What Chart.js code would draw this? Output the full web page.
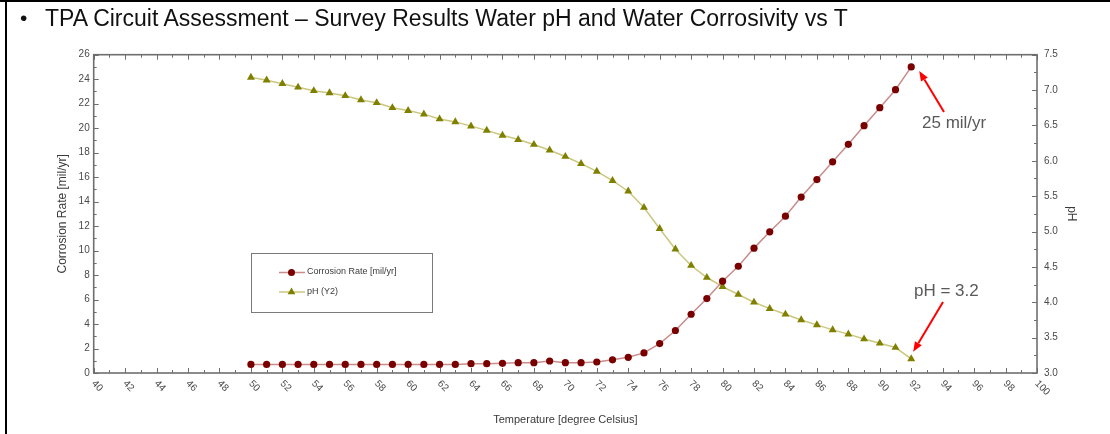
<!DOCTYPE html>
<html>
<head>
<meta charset="utf-8">
<title>TPA Circuit Assessment</title>
<script src="https://cdn.jsdelivr.net/npm/chart.js@4/dist/chart.umd.min.js"></script>
<style>
  html, body { margin: 0; padding: 0; background: #fff; }
  #slide { position: relative; width: 1110px; height: 434px; overflow: hidden; background: #fff; }
  #chart { position: absolute; left: 0; top: 0; }
  .edge { position: absolute; background: #000; }
  #heading {
    position: absolute; left: 45px; top: 4px;
    font-family: 'Liberation Sans', Arial, sans-serif; font-size: 23px; line-height: 28px;
    color: #111; white-space: nowrap;
  }
  #bullet {
    position: absolute; left: 20px; top: 5px;
    font-family: 'Liberation Sans', Arial, sans-serif; font-size: 21px; line-height: 26px; color: #111;
  }
</style>
</head>
<body>
<div id="slide">
  <canvas id="chart" width="1110" height="434"></canvas>
  <div class="edge" style="left:0;top:0;width:1110px;height:2px;"></div>
  <div class="edge" style="left:5px;top:0;width:2px;height:434px;"></div>
  <div id="bullet">•</div>
  <div id="heading">TPA Circuit Assessment – Survey Results Water pH and Water Corrosivity vs T</div>
</div>
<script>
// Survey temperatures (degree Celsius)
const temperatures = [50, 51, 52, 53, 54, 55, 56, 57, 58, 59, 60, 61, 62, 63, 64, 65, 66, 67, 68, 69, 70,
  71, 72, 73, 74, 75, 76, 77, 78, 79, 80, 81, 82, 83, 84, 85, 86, 87, 88, 89, 90, 91, 92];

// Corrosion rate, mil/yr
const corrosionRate = [0.7, 0.7, 0.7, 0.7, 0.7, 0.7, 0.7, 0.7, 0.7, 0.7, 0.7, 0.7, 0.7, 0.7, 0.76, 0.76,
  0.79, 0.84, 0.84, 0.98, 0.84, 0.84, 0.9, 1.08, 1.28, 1.64, 2.4, 3.47, 4.8, 6.08, 7.5, 8.72, 10.2,
  11.53, 12.81, 14.37, 15.8, 17.25, 18.68, 20.2, 21.67, 23.14, 25];

// Water pH
const waterPH = [7.18, 7.14, 7.09, 7.04, 6.99, 6.96, 6.92, 6.86, 6.82, 6.75, 6.71, 6.66, 6.59, 6.55,
  6.49, 6.43, 6.36, 6.30, 6.23, 6.15, 6.06, 5.96, 5.85, 5.72, 5.57, 5.34, 5.04, 4.75, 4.52, 4.35,
  4.22, 4.11, 4.00, 3.91, 3.83, 3.75, 3.68, 3.61, 3.55, 3.48, 3.42, 3.36, 3.2];

const seriesNames = ['Corrosion Rate [mil/yr]', 'pH (Y2)'];
const axisTitles = ['Temperature [degree Celsius]', 'Corrosion Rate [mil/yr]', 'pH'];
const callouts = ['25 mil/yr', 'pH = 3.2'];

const FONT = "'Liberation Sans', Arial, sans-serif";
const AXIS_GREY = '#6e6e6e';
const LABEL_GREY = '#4a4a4a';
const RATE_LINE = '#c98c8c', RATE_MARK = '#7a0000';
const PH_LINE = '#cbc77e', PH_MARK = '#7f7f00';

Chart.defaults.font.family = FONT;

function xy(xs, ys) { return xs.map((t, i) => ({ x: t, y: ys[i] })); }

function tri(ctx, x, y, r) {
  ctx.beginPath();
  ctx.moveTo(x, y - r);
  ctx.lineTo(x + r * 0.866, y + r * 0.5);
  ctx.lineTo(x - r * 0.866, y + r * 0.5);
  ctx.closePath();
  ctx.fill();
}

function arrow(ctx, x0, y0, x1, y1) {
  const ang = Math.atan2(y1 - y0, x1 - x0);
  const hl = 10, hw = 4;
  const bx = x1 - hl * Math.cos(ang), by = y1 - hl * Math.sin(ang);
  ctx.beginPath();
  ctx.moveTo(x0, y0);
  ctx.lineTo(bx, by);
  ctx.stroke();
  ctx.beginPath();
  ctx.moveTo(x1, y1);
  ctx.lineTo(bx + hw * Math.sin(ang), by - hw * Math.cos(ang));
  ctx.lineTo(bx - hw * Math.sin(ang), by + hw * Math.cos(ang));
  ctx.closePath();
  ctx.fill();
}

// Boxed frame with inward major/minor ticks on all four sides
const framePlugin = {
  id: 'frame',
  beforeDatasetsDraw(chart) {
    const { ctx, chartArea: a, scales } = chart;
    const { x, y, y1 } = scales;
    ctx.save();
    ctx.strokeStyle = AXIS_GREY;
    ctx.lineWidth = 1;
    const seg = (x0, y0, x1, y1_) => { ctx.beginPath(); ctx.moveTo(x0, y0); ctx.lineTo(x1, y1_); ctx.stroke(); };
    for (let v = x.min; v <= x.max; v += 1) {
      const px = Math.round(x.getPixelForValue(v)) + 0.5;
      const len = v % 2 === 0 ? 5 : 3;
      seg(px, a.bottom, px, a.bottom - len);
      seg(px, a.top, px, a.top + len);
    }
    for (let v = y.min; v <= y.max; v += 1) {
      const py = Math.round(y.getPixelForValue(v)) + 0.5;
      seg(a.left, py, a.left + (v % 2 === 0 ? 5 : 3), py);
    }
    for (let k = 0; k <= (y1.max - y1.min) / 0.25 + 1e-6; k++) {
      const v = y1.min + k * 0.25;
      const py = Math.round(y1.getPixelForValue(v)) + 0.5;
      seg(a.right, py, a.right - (k % 2 === 0 ? 5 : 3), py);
    }
    ctx.lineWidth = 1.6;
    ctx.strokeRect(a.left, a.top, a.right - a.left, a.bottom - a.top);

    // slanted temperature labels
    ctx.fillStyle = LABEL_GREY;
    ctx.font = '10px ' + FONT;
    ctx.textAlign = 'left';
    ctx.textBaseline = 'alphabetic';
    x.ticks.forEach(t => {
      const px = x.getPixelForValue(t.value);
      ctx.save();
      ctx.translate(px - 2.5, a.bottom + 11);
      ctx.rotate(Math.PI / 4);
      ctx.fillText(String(t.value), 0, 0);
      ctx.restore();
    });
    ctx.restore();
  },
  afterDatasetsDraw(chart) {
    const { ctx, scales } = chart;
    const { x, y, y1 } = scales;
    ctx.save();

    // legend box
    ctx.strokeStyle = '#7a7a7a';
    ctx.lineWidth = 1;
    ctx.strokeRect(251.5, 253.5, 181, 59);
    ctx.font = '9px ' + FONT;
    ctx.textBaseline = 'middle';
    ctx.textAlign = 'left';
    ctx.lineWidth = 1.5;
    ctx.strokeStyle = RATE_LINE;
    ctx.beginPath(); ctx.moveTo(279, 272.5); ctx.lineTo(305, 272.5); ctx.stroke();
    ctx.fillStyle = RATE_MARK;
    ctx.beginPath(); ctx.arc(291.5, 272.5, 3.5, 0, Math.PI * 2); ctx.fill();
    ctx.strokeStyle = PH_LINE;
    ctx.beginPath(); ctx.moveTo(279, 292); ctx.lineTo(305, 292); ctx.stroke();
    ctx.fillStyle = PH_MARK;
    tri(ctx, 291.5, 292, 4.5);
    ctx.fillStyle = '#3a3a3a';
    ctx.fillText(seriesNames[0], 307, 272);
    ctx.fillText(seriesNames[1], 307, 291.5);

    // callouts with red arrows to the last survey point
    const n = temperatures.length - 1;
    const rx = x.getPixelForValue(temperatures[n]);
    const ry = y.getPixelForValue(corrosionRate[n]);
    const py = y1.getPixelForValue(waterPH[n]);
    ctx.strokeStyle = '#ff0000';
    ctx.fillStyle = '#ff0000';
    ctx.lineWidth = 2;
    arrow(ctx, 944, 112, rx + 8, ry + 4);
    arrow(ctx, 943, 302, rx + 2, py - 7);
    ctx.fillStyle = '#595959';
    ctx.font = '17px ' + FONT;
    ctx.textBaseline = 'alphabetic';
    ctx.fillText(callouts[0], 922, 128);
    ctx.fillText(callouts[1], 914, 296);
    ctx.restore();
  }
};

new Chart(document.getElementById('chart'), {
  type: 'line',
  data: {
    datasets: [
      {
        label: seriesNames[0],
        data: xy(temperatures, corrosionRate),
        yAxisID: 'y',
        borderColor: RATE_LINE,
        borderWidth: 1.5,
        pointStyle: 'circle',
        pointRadius: 3.6,
        pointBackgroundColor: RATE_MARK,
        pointBorderColor: RATE_MARK,
        pointBorderWidth: 0,
        tension: 0
      },
      {
        label: seriesNames[1],
        data: xy(temperatures, waterPH),
        yAxisID: 'y1',
        borderColor: PH_LINE,
        borderWidth: 1.5,
        pointStyle: 'triangle',
        pointRadius: 4.6,
        pointBackgroundColor: PH_MARK,
        pointBorderColor: PH_MARK,
        pointBorderWidth: 0,
        tension: 0
      }
    ]
  },
  options: {
    responsive: false,
    animation: false,
    devicePixelRatio: 1,
    layout: { padding: { left: 55.6, right: 31.4, top: 54.7, bottom: 7.4 } },
    plugins: { legend: { display: false }, tooltip: { enabled: false } },
    scales: {
      x: {
        type: 'linear', min: 40, max: 100,
        ticks: { stepSize: 2, display: false },
        grid: { display: false, drawTicks: false },
        border: { display: false },
        title: { display: true, text: axisTitles[0], color: '#3a3a3a', font: { size: 11 }, padding: 0 },
        afterFit(s) { s.height = 53.6; }
      },
      y: {
        position: 'left', min: 0, max: 26,
        ticks: { stepSize: 2, color: LABEL_GREY, font: { size: 10 }, padding: 4 },
        grid: { display: false, drawTicks: false },
        border: { display: false },
        title: { display: true, text: axisTitles[1], color: '#3a3a3a', font: { size: 12 }, padding: 0 },
        afterFit(s) { s.width = 38.1; }
      },
      y1: {
        position: 'right', min: 3, max: 7.5,
        ticks: { stepSize: 0.5, color: LABEL_GREY, font: { size: 10 }, padding: 7, callback: v => v.toFixed(1) },
        grid: { display: false, drawTicks: false },
        border: { display: false },
        title: { display: true, text: axisTitles[2], color: '#3a3a3a', font: { size: 12 }, padding: 0 },
        afterFit(s) { s.width = 41.6; }
      }
    }
  },
  plugins: [framePlugin]
});
</script>
</body>
</html>
